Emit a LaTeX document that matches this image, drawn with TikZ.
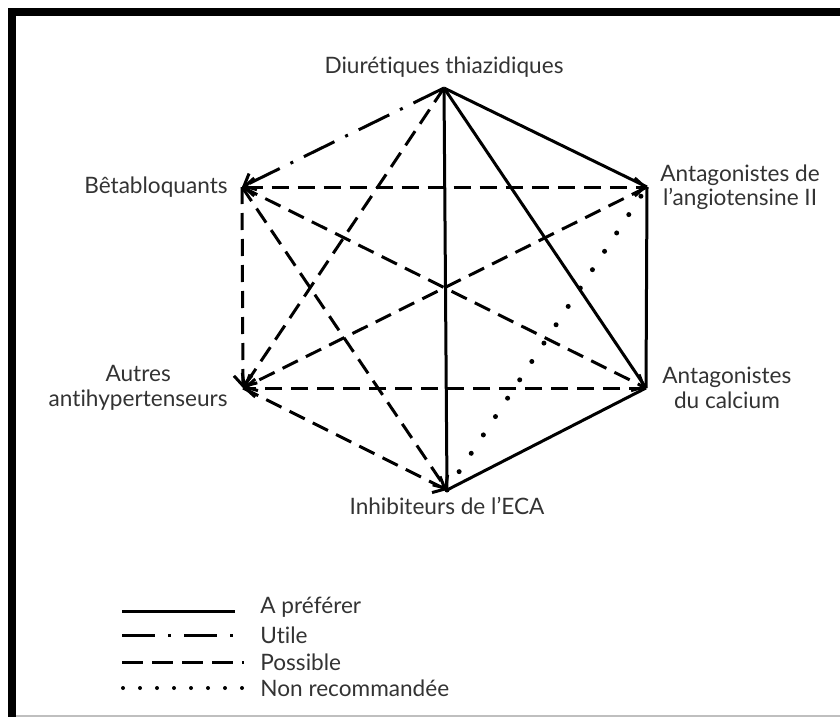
\documentclass[tikz,border=0pt]{standalone}
\usepackage{fontspec}
\setmainfont[Ligatures=NoCommon]{Lato}
\usetikzlibrary{positioning,arrows.meta}

\tikzset{
  lbl/.style={inner sep=0pt,align=center,text=black!80,font=\fontsize{11.3}{12.2}\selectfont},
  prefer/.style={line width=1.5pt},
  useful/.style={line width=1.5pt,dash pattern=on 17pt off 6pt on 1.5pt off 6pt},
  possible/.style={line width=1.5pt,dash pattern=on 8.5pt off 4.5pt},
  notrec/.style={line width=2.5pt,line cap=round,dash pattern=on 0pt off 11pt}
}

\begin{document}
\begin{tikzpicture}[x=0.5pt,y=-0.5pt,>={Straight Barb[length=5pt,width=9pt]}]
  \useasboundingbox (0,0) rectangle (840,717);
  % frame
  \fill (8,8) rectangle (840,16);
  \fill (8,8) rectangle (16,717);
  \draw[black!25,line width=0.6pt] (16,716)--(840,716);

  % corners of the hexagon
  \coordinate (dt) at (444,88);
  \coordinate (bb) at (242,187);
  \coordinate (ara) at (647,187);
  \coordinate (ao) at (243,388);
  \coordinate (ca) at (646,388);
  \coordinate (ie) at (447,490);

  \node[lbl,above=5pt of dt] (dtlab) {Diurétiques thiazidiques};
  \node[lbl,left=7pt of bb] (bblab) {Bêtabloquants};
  \node[lbl,right=6.5pt of ara] (aralab) {Antagonistes de\\l’angiotensine II};
  \node[lbl,right=8pt of ca] (calab) {Antagonistes\\du calcium};
  \node[lbl,left=7.5pt of ao] (aolab) {Autres\\antihypertenseurs};
  \node[lbl,below=3.5pt of ie] (ielab) {Inhibiteurs de l’ECA};

  % a preferer
  \draw[prefer] (dt)--(ara);
  \draw[prefer] (dt)--(ca);
  \draw[prefer] (dt)--(ie);
  \draw[prefer] (ara)--(ca);
  \draw[prefer] (ca)--(ie);
  % utile
  \draw[useful,->] (dt)--(bb);
  % possible
  \draw[possible,<->] (bb)--(ara);
  \draw[possible,->] (bb)--(ao);
  \draw[possible,->] (bb)--(ca);
  \draw[possible,->] (bb)--(ie);
  \draw[possible,->] (dt)--(ao);
  \draw[possible,->] (ara)--(ao);
  \draw[possible,->] (ca)--(ao);
  \draw[possible,->] (ao)--(ie);
  % non recommandee
  \draw[notrec] (ie)--(ara);

  % legend
  \node[lbl,anchor=west] (legA) at (260,607) {A préférer};
  \node[lbl,anchor=west] (legB) at (260,635) {Utile};
  \node[lbl,anchor=west] (legC) at (260,662) {Possible};
  \node[lbl,anchor=west] (legD) at (260,688) {Non recommandée};
  \draw[prefer] (122,611)--(235,611);
  \draw[useful,dash pattern=on 16.5pt off 6.5pt on 1.5pt off 6.5pt] (122,635)--(235,635);
  \draw[possible,dash pattern=on 10.5pt off 4.5pt] (122,662)--(244,662);
  \draw[notrec,line width=2pt,dash pattern=on 0pt off 8.5pt] (123,688)--(243,688);
\end{tikzpicture}
\end{document}
